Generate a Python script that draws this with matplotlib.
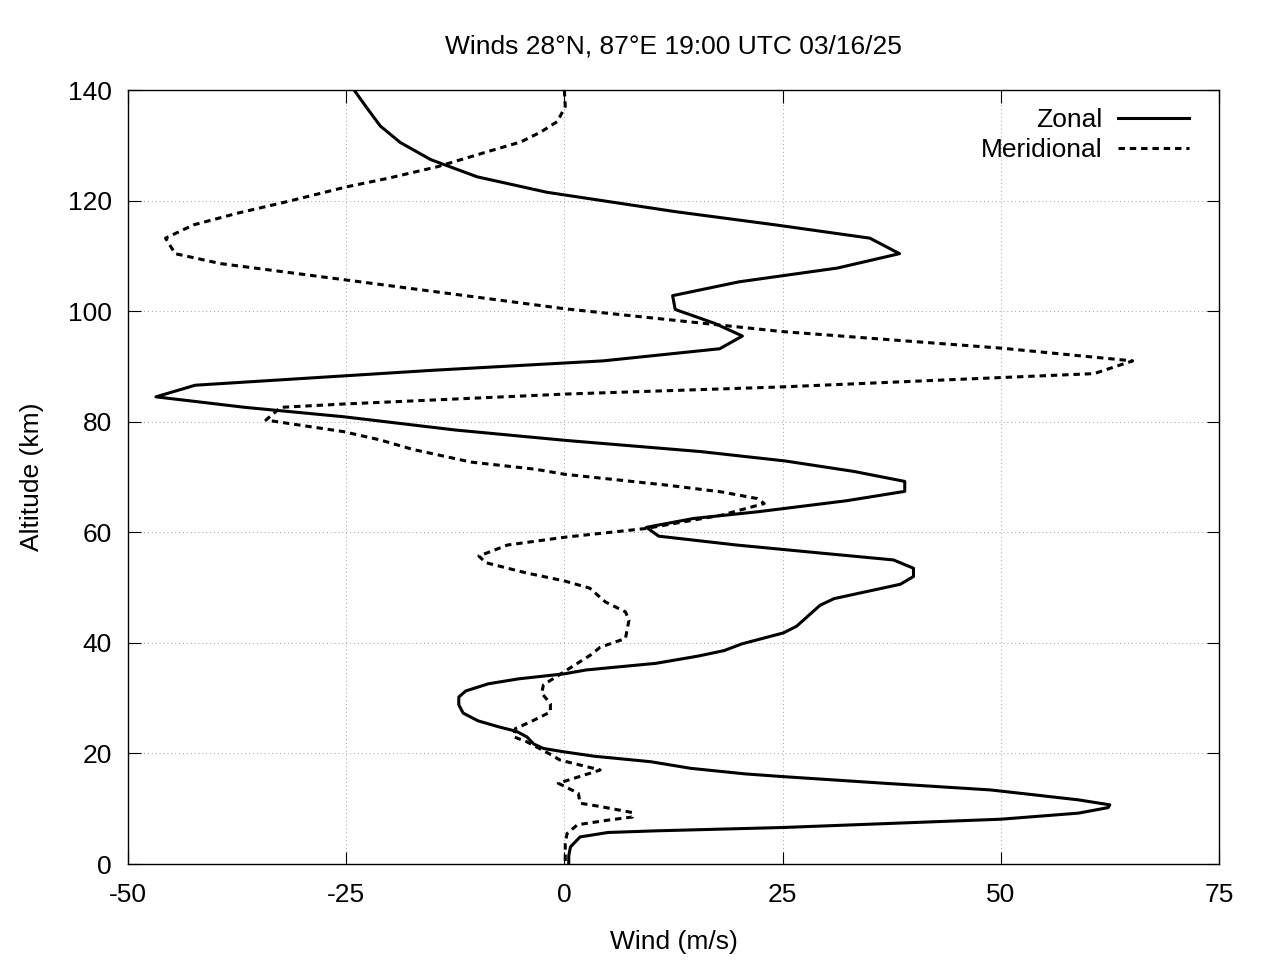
import numpy as np
import matplotlib
matplotlib.use("Agg")
import matplotlib.pyplot as plt

# profile values (altitude km, wind m/s)
zonal_alt = [140, 136.7, 133.5, 130.5, 127.4, 124.3, 121.5, 118.0, 115.6, 113.2,
             110.4, 107.8, 105.3, 102.8, 100.3, 97.8, 95.5, 93.2, 91.0, 89.3,
             86.6, 84.5, 82.6, 80.9, 78.5, 76.6, 74.6, 72.9, 71.0, 69.2,
             67.4, 65.7, 63.7, 62.5, 60.9, 59.3, 57.7, 56.1, 55.0, 53.5,
             52.0, 50.6, 48.0, 46.8, 43.0, 41.8, 39.8, 38.6, 37.6, 36.3,
             35.1, 34.4, 33.5, 32.6, 31.3, 30.2, 28.8, 27.3, 25.9, 24.8,
             24.0, 23.0, 21.7, 20.9, 20.3, 19.5, 18.5, 17.3, 16.3, 15.8,
             14.6, 13.4, 12.8, 11.6, 10.7, 10.2, 9.2, 8.1, 6.6, 6.0,
             5.7, 4.9, 3.1, 1.5, 0]
zonal_wind = [-24.1, -22.6, -21.1, -18.8, -15.3, -10.0, -2.0, 12.7, 24.2, 35.0,
              38.4, 31.3, 20.0, 12.4, 12.7, 17.2, 20.4, 17.8, 4.4, -15.1,
              -42.3, -46.8, -36.6, -25.3, -12.5, 0.3, 15.6, 25.3, 33.2, 39.0,
              39.0, 32.3, 22.1, 14.8, 9.4, 10.8, 19.7, 30.3, 37.7, 40.0,
              40.0, 38.5, 30.9, 29.3, 26.6, 25.1, 20.3, 18.3, 15.3, 10.5,
              2.5, 0.0, -5.2, -8.7, -11.3, -12.1, -12.1, -11.6, -9.9, -7.5,
              -5.5, -4.3, -3.5, -2.4, -0.1, 3.4, 9.9, 14.5, 20.7, 25.1,
              36.7, 48.8, 52.2, 58.9, 62.5, 62.3, 58.9, 50.0, 25.0, 10.5,
              5.0, 1.8, 0.7, 0.5, 0.5]

merid_alt = [140, 137.0, 134.3, 132.4, 130.6, 128.8, 126.1, 124.0, 122.5, 119.8,
             117.7, 115.6, 113.2, 110.4, 108.6, 105.7, 100.4, 96.3, 93.3, 91.0,
             88.7, 88.0, 86.3, 85.0, 83.2, 82.6, 80.3, 78.2, 76.7, 75.0,
             72.7, 71.4, 70.5, 68.5, 67.3, 66.1, 65.2, 63.1, 60.7, 59.1,
             57.7, 55.7, 54.5, 52.7, 51.2, 49.9, 47.4, 45.6, 44.1, 40.8,
             39.2, 37.8, 36.6, 34.5, 32.4, 30.9, 29.0, 27.5, 25.7, 24.5,
             23.0, 22.1, 20.0, 18.8, 17.0, 14.6, 12.8, 11.0, 10.4, 9.3,
             8.5, 8.0, 7.1, 5.5, 3.7, 0]
merid_wind = [0.0, 0.1, -0.8, -2.7, -5.0, -8.9, -14.6, -20.3, -24.9, -31.8,
              -37.5, -42.5, -45.7, -44.6, -39.4, -25.3, 0.2, 25.0, 50.1, 65.1,
              60.7, 50.2, 25.0, 0.1, -25.3, -32.5, -34.2, -25.3, -21.1, -17.4,
              -10.7, -3.3, 0.0, 11.9, 18.0, 22.1, 22.9, 18.0, 9.4, 0.0,
              -6.5, -9.8, -9.0, -4.5, 0.0, 2.9, 4.7, 7.0, 7.4, 7.0,
              4.1, 3.0, 1.8, -0.3, -2.4, -2.6, -1.6, -1.6, -3.9, -5.6,
              -5.8, -4.3, -1.8, -0.5, 4.1, -0.7, 1.6, 1.8, 4.1, 7.8,
              7.8, 5.3, 1.5, 0.3, 0.1, 0.1]

x_ticks = [-50, -25, 0, 25, 50, 75]
y_ticks = [0, 20, 40, 60, 80, 100, 120, 140]
title = "Winds 28°N, 87°E 19:00 UTC 03/16/25"

plt.rcParams['font.family'] = ['Liberation Sans', 'DejaVu Sans']
plt.rcParams['font.size'] = 19
plt.rcParams['axes.unicode_minus'] = False

fig = plt.figure(figsize=(12.8, 9.6), dpi=100)
ax = fig.add_axes([0.1, 0.1, 0.9523 - 0.1, 0.90625 - 0.1])

ax.plot(zonal_wind, zonal_alt, color='black', lw=2.2, label='Zonal')
ax.plot(merid_wind, merid_alt, color='black', lw=2.2, dashes=(2.1, 1.6),
        dash_capstyle='butt', label='Meridional')

ax.set_xlim(-50, 75)
ax.set_ylim(0, 140)
ax.set_xticks(x_ticks)
ax.set_yticks(y_ticks)
ax.tick_params(direction='in', length=9, width=0.8, top=True, right=True)
ax.tick_params(axis='x', pad=13.7)
ax.tick_params(axis='y', pad=11.5)
ax.grid(True, color='#a0a0a0', lw=0.7, linestyle=(0, (1, 3)))
for s in ax.spines.values():
    s.set_linewidth(1.0)

ax.set_title(title, fontsize=19, pad=26)
ax.set_xlabel('Wind (m/s)', labelpad=16.5)
ax.set_ylabel('Altitude (km)', labelpad=17)

ax.legend(loc='upper right', bbox_to_anchor=(0.9826, 0.9904),
          markerfirst=False, frameon=False, handlelength=2.7,
          handletextpad=0.6, labelspacing=0.24, borderaxespad=0)

fig.savefig('out.png', dpi=100)
